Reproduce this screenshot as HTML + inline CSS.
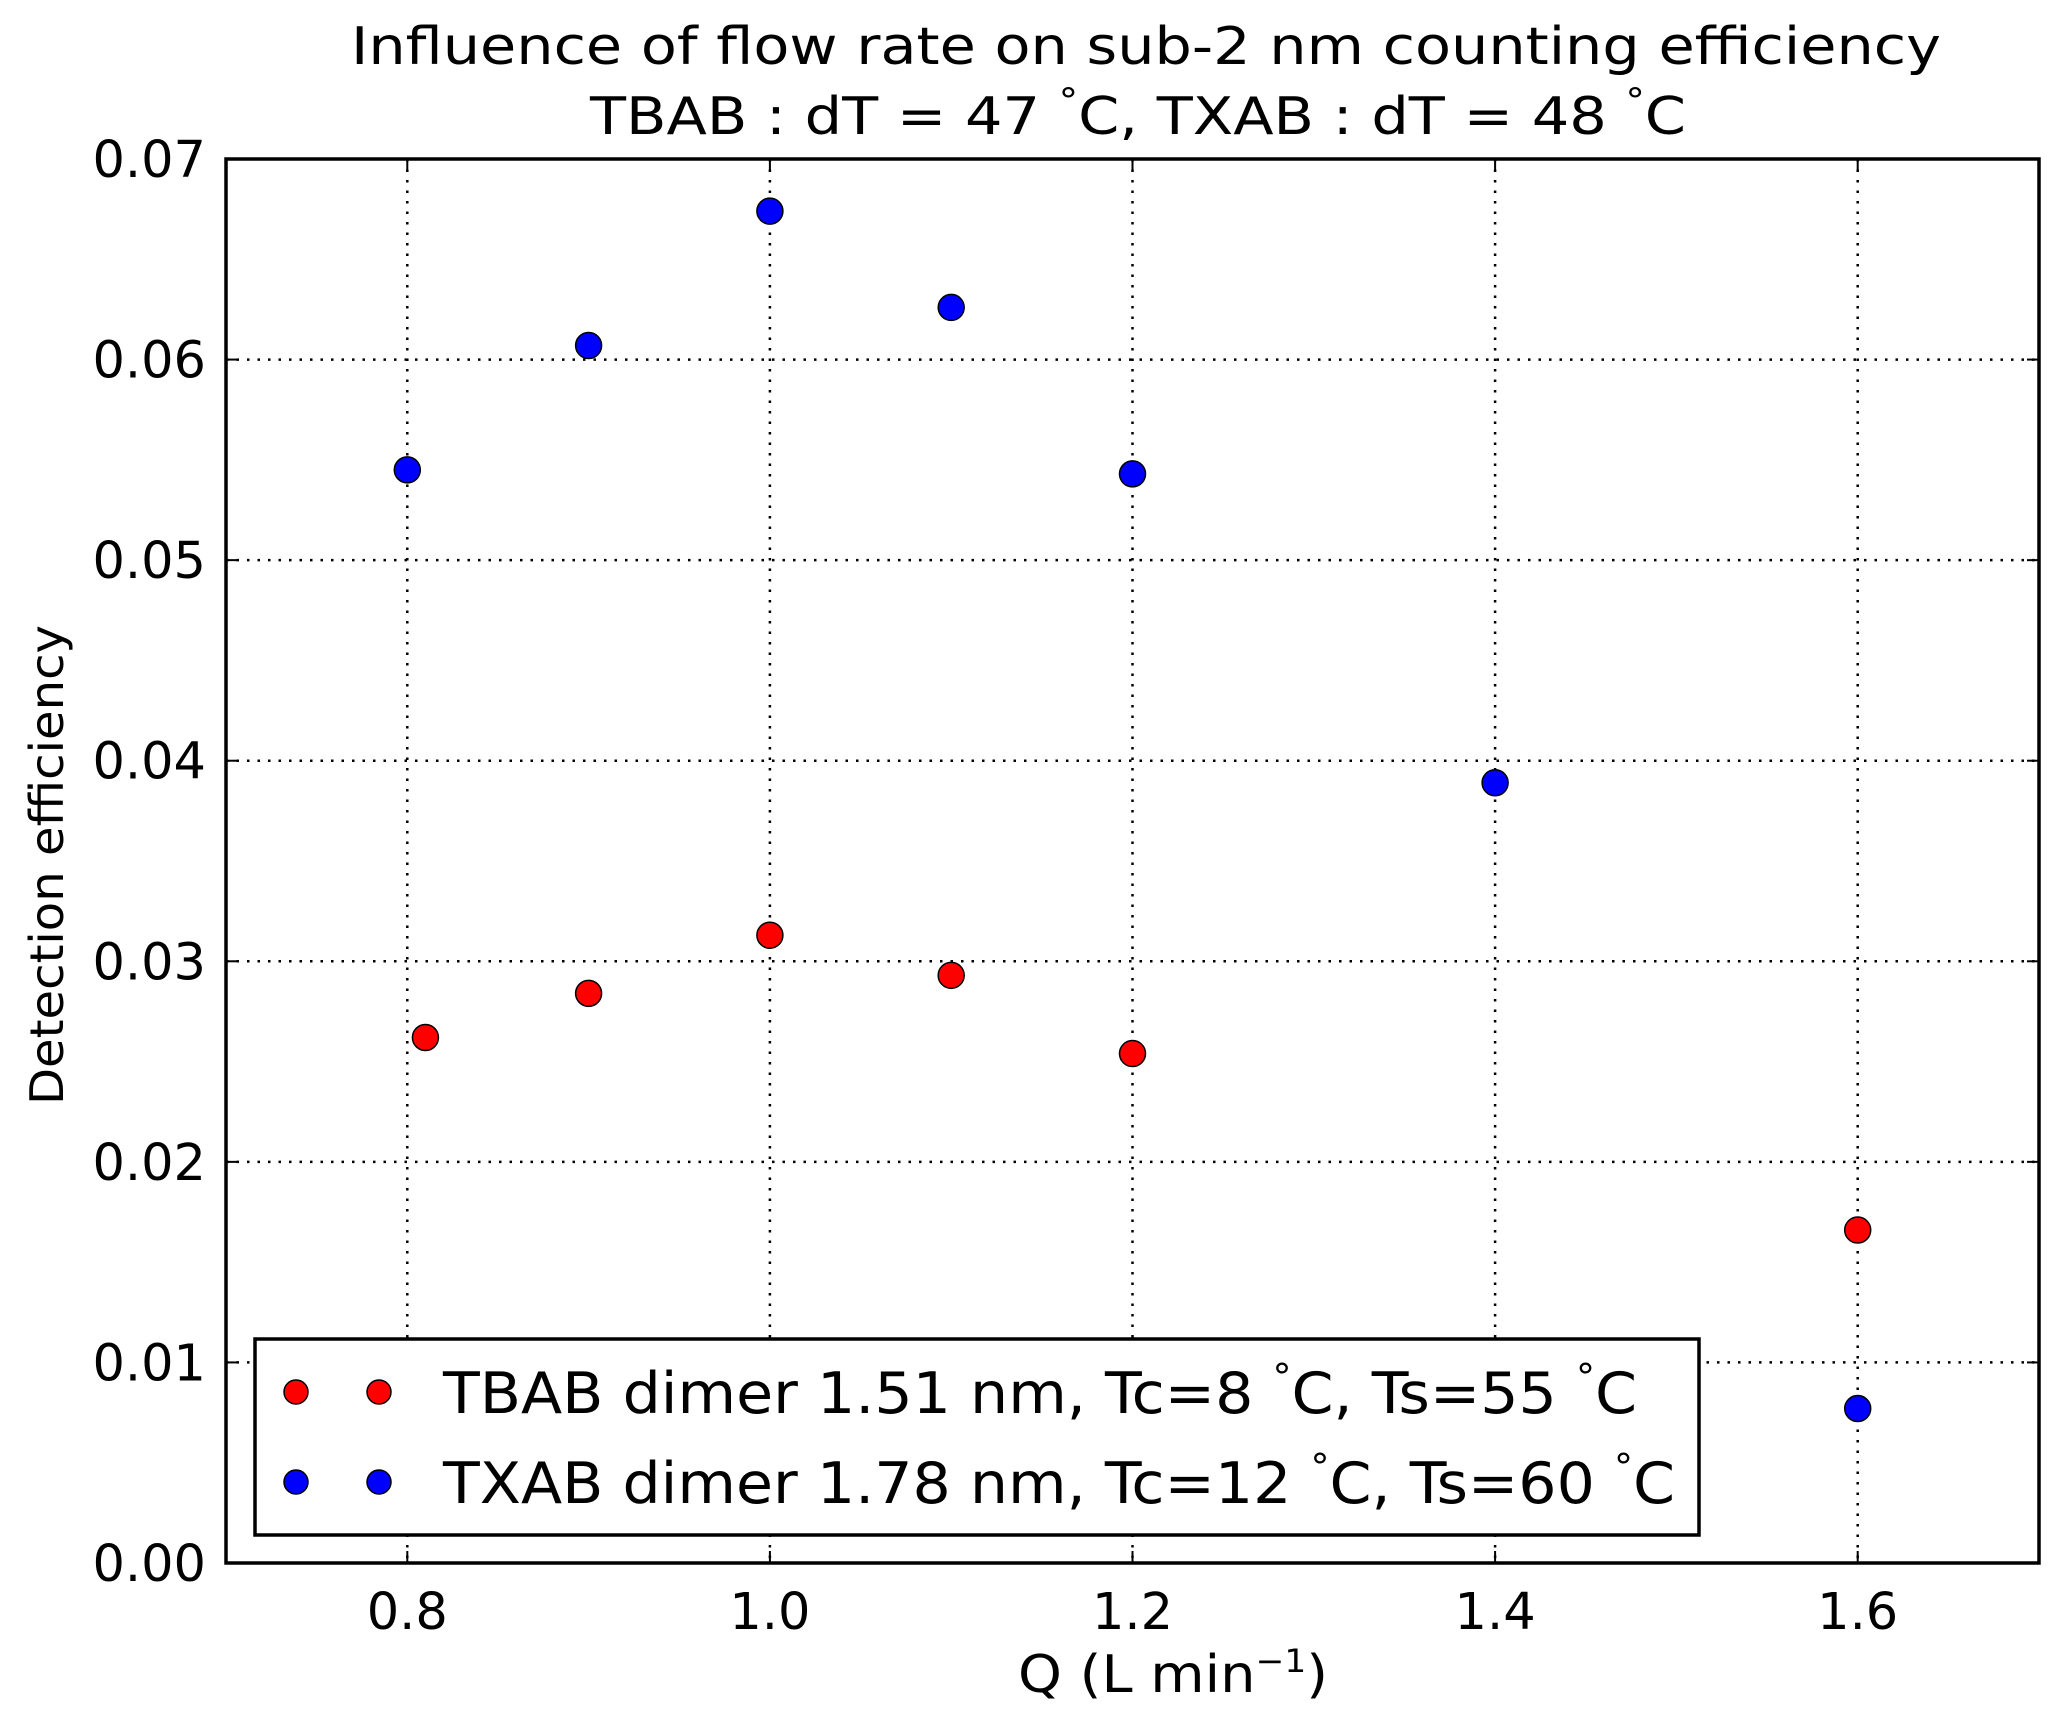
<!DOCTYPE html>
<html><head><meta charset="utf-8"><style>
html,body{margin:0;padding:0;background:#fff}
svg{display:block;font-family:"DejaVu Sans","Liberation Sans",sans-serif}
</style></head><body>
<svg id="chart" width="2067" height="1720" viewBox="0 0 2067 1720" xmlns="http://www.w3.org/2000/svg">
<rect x="0" y="0" width="2067" height="1720" fill="#fff"/>
<g id="grid"></g>
<g id="ticks"></g>
<g id="marks"></g>
<rect x="226" y="159" width="1813" height="1404" fill="none" stroke="#000" stroke-width="3.5"/>
<text x="1146" y="64" font-size="52" text-anchor="middle" textLength="1590" lengthAdjust="spacingAndGlyphs">Influence of flow rate on sub-2 nm counting efficiency</text>
<text x="1138" y="134" font-size="52" text-anchor="middle" textLength="1096" lengthAdjust="spacingAndGlyphs">TBAB : dT = 47 <tspan font-size="34" dy="-22">°</tspan><tspan dy="22">C, TXAB : dT = 48 </tspan><tspan font-size="34" dy="-22">°</tspan><tspan dy="22">C</tspan></text>
<text x="0" y="0" font-size="46" text-anchor="middle" transform="translate(63,865) rotate(-90)" textLength="480" lengthAdjust="spacingAndGlyphs">Detection efficiency</text>
<text x="1173" y="1692" font-size="52" text-anchor="middle" textLength="310" lengthAdjust="spacingAndGlyphs">Q (L min<tspan font-size="32" dy="-20">−1</tspan><tspan dy="20">)</tspan></text>
<g>
<rect x="255" y="1339" width="1444" height="196" fill="#fff" stroke="#000" stroke-width="3.5"/>
<circle cx="296" cy="1392" r="12" fill="#ff0000" stroke="#000" stroke-width="1.5"/>
<circle cx="379" cy="1392" r="12" fill="#ff0000" stroke="#000" stroke-width="1.5"/>
<text x="443" y="1413" font-size="57" textLength="1194" lengthAdjust="spacingAndGlyphs">TBAB dimer 1.51 nm, Tc=8 <tspan font-size="36" dy="-24">°</tspan><tspan dy="24">C, Ts=55 </tspan><tspan font-size="36" dy="-24">°</tspan><tspan dy="24">C</tspan></text>
<circle cx="296" cy="1482" r="12" fill="#0000ff" stroke="#000" stroke-width="1.5"/>
<circle cx="379" cy="1482" r="12" fill="#0000ff" stroke="#000" stroke-width="1.5"/>
<text x="443" y="1503" font-size="57" textLength="1232" lengthAdjust="spacingAndGlyphs">TXAB dimer 1.78 nm, Tc=12 <tspan font-size="36" dy="-24">°</tspan><tspan dy="24">C, Ts=60 </tspan><tspan font-size="36" dy="-24">°</tspan><tspan dy="24">C</tspan></text>
</g>
</svg>
<script>
const xTicks = [0.8, 1.0, 1.2, 1.4, 1.6];
const xTickLabels = ["0.8", "1.0", "1.2", "1.4", "1.6"];
const yTicks = [0, 0.01, 0.02, 0.03, 0.04, 0.05, 0.06, 0.07];
const yTickLabels = ["0.00", "0.01", "0.02", "0.03", "0.04", "0.05", "0.06", "0.07"];
const tbabQ = [0.81, 0.9, 1.0, 1.1, 1.2, 1.6];
const tbabEff = [0.0262, 0.0284, 0.0313, 0.0293, 0.0254, 0.0166];
const txabQ = [0.8, 0.9, 1.0, 1.1, 1.2, 1.4, 1.6];
const txabEff = [0.0545, 0.0607, 0.0674, 0.0626, 0.0543, 0.0389, 0.0077];

const L = 226, R = 2039, T = 159, B = 1563;
const xMin = 0.7, xMax = 1.7, yMin = 0, yMax = 0.07;
function xs(v){ return L + (v - xMin) / (xMax - xMin) * (R - L); }
function ys(v){ return B - (v - yMin) / (yMax - yMin) * (B - T); }
const NS = "http://www.w3.org/2000/svg";
function mk(tag, attrs, parent){
  const e = document.createElementNS(NS, tag);
  for (const k in attrs) e.setAttribute(k, attrs[k]);
  parent.appendChild(e); return e;
}
const grid = document.getElementById('grid');
const ticks = document.getElementById('ticks');
const marks = document.getElementById('marks');

xTicks.forEach((v, i) => {
  const x = xs(v);
  const g = mk('line', {x1:x, x2:x, y1:T, y2:B, stroke:'#000', 'stroke-width':2.5, 'stroke-dasharray':'2.5 8'}, grid);
  
  
  const t1 = mk('line', {x1:x, x2:x, y1:B, y2:B-12, stroke:'#000', 'stroke-width':2}, ticks);
  
  
  const t2 = mk('line', {x1:x, x2:x, y1:T, y2:T+12, stroke:'#000', 'stroke-width':2}, ticks);
  
  
  const lb = mk('text', {x:x, y:1629, 'font-size':51, 'text-anchor':'middle'}, ticks);
  lb.textContent = xTickLabels[i];
  
  
});
yTicks.forEach((v, i) => {
  const y = ys(v);
  const g = mk('line', {x1:L, x2:R, y1:y, y2:y, stroke:'#000', 'stroke-width':2.5, 'stroke-dasharray':'2.5 8'}, grid);
  
  
  const t1 = mk('line', {x1:L, x2:L+12, y1:y, y2:y, stroke:'#000', 'stroke-width':2}, ticks);
  
  
  const t2 = mk('line', {x1:R, x2:R-12, y1:y, y2:y, stroke:'#000', 'stroke-width':2}, ticks);
  
  
  const lb = mk('text', {x:206, y:y+18, 'font-size':51, 'text-anchor':'end'}, ticks);
  lb.textContent = yTickLabels[i];
  
  
});
txabQ.forEach((q, i) => {
  const c = mk('circle', {cx:xs(q), cy:ys(txabEff[i]), r:13, fill:'#0000ff', stroke:'#000', 'stroke-width':1.5}, marks);
  
  
});
tbabQ.forEach((q, i) => {
  const c = mk('circle', {cx:xs(q), cy:ys(tbabEff[i]), r:13, fill:'#ff0000', stroke:'#000', 'stroke-width':1.5}, marks);
  
  
});
</script>
</body></html>
